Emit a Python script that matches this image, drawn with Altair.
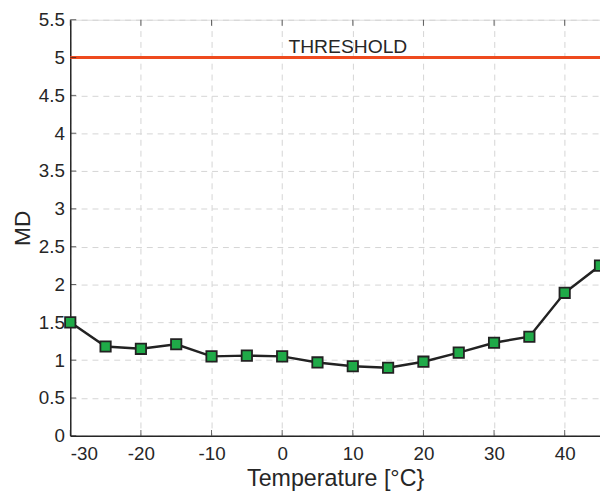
import altair as alt
import pandas as pd

temps = [-30, -25, -20, -15, -10, -5, 0, 5, 10, 15, 20, 25, 30, 35, 40, 45]
md = [1.50, 1.18, 1.15, 1.21, 1.05, 1.06, 1.05, 0.97, 0.92, 0.90, 0.98, 1.10, 1.23, 1.31, 1.89, 2.25]
threshold = 5
threshold_label = "THRESHOLD"
threshold_label_x = 9.3
x_ticks = [-30, -20, -10, 0, 10, 20, 30, 40]
y_ticks = [0, 0.5, 1, 1.5, 2, 2.5, 3, 3.5, 4, 4.5, 5, 5.5]

df = pd.DataFrame({"T": temps, "MD": md})
W, H = 536, 421
FONT = "Liberation Sans"

xs = alt.Scale(domain=[-30, 45], nice=False, zero=False)
ys = alt.Scale(domain=[0, 5.5], nice=False)

xaxis = alt.Axis(values=x_ticks, grid=True, gridDash=[6, 5], gridColor="#d4d4d4",
                 tickSize=0, labelFontSize=19, labelColor="#262626", labelFont=FONT,
                 labelPadding=9, labelExpr="toString(datum.value)", domainColor="#262626",
                 domainWidth=1.5, labelOverlap=False,
                 title="Temperature [°C}", titleFontSize=23.5, titleFont=FONT,
                 titleFontWeight="normal", titleColor="#262626", titlePadding=3)
yaxis = alt.Axis(values=y_ticks, grid=True, gridDash=[6, 5], gridColor="#d4d4d4",
                 tickSize=0, labelFontSize=19, labelColor="#262626", labelFont=FONT,
                 labelPadding=6, labelExpr="toString(datum.value)", domainColor="#262626",
                 domainWidth=1.5, labelOverlap=False,
                 title="MD", titleFontSize=23, titleFont=FONT,
                 titleFontWeight="normal", titleColor="#262626", titlePadding=4)

def X(f):
    return alt.X(f, scale=xs, axis=xaxis)

def Y(f):
    return alt.Y(f, scale=ys, axis=yaxis)

base = alt.Chart(df)

line = base.mark_line(color="#222222", strokeWidth=2.5).encode(x=X("T:Q"), y=Y("MD:Q"))
pts = base.mark_point(shape="square", filled=True, size=110, color="#1faa48",
                      stroke="#222222", strokeWidth=1.8, opacity=1).encode(x=X("T:Q"), y=Y("MD:Q"))

thr = alt.Chart(pd.DataFrame({"y": [threshold]})).mark_rule(
    color="#ee4a1e", strokeWidth=3).encode(y=Y("y:Q"))
thr_text = alt.Chart(pd.DataFrame({"x": [threshold_label_x], "y": [threshold], "t": [threshold_label]})).mark_text(
    fontSize=19.5, font=FONT, color="#262626", dy=-11).encode(
    x=X("x:Q"), y=Y("y:Q"), text="t:N")

xt = pd.DataFrame({"v": x_ticks})
yt = pd.DataFrame({"v": y_ticks})
xtick_b = alt.Chart(xt).mark_tick(orient="vertical", size=6, thickness=1, color="#262626").encode(
    x=X("v:Q"), y=alt.value(H - 3))
xtick_t = alt.Chart(xt).mark_tick(orient="vertical", size=6, thickness=1, color="#262626").encode(
    x=X("v:Q"), y=alt.value(3))
ytick_l = alt.Chart(yt).mark_tick(orient="horizontal", size=6, thickness=1, color="#262626").encode(
    y=Y("v:Q"), x=alt.value(3))

chart = alt.layer(line, thr, thr_text, xtick_b, xtick_t, ytick_l, pts).properties(
    width=W, height=H,
    autosize=alt.AutoSizeParams(type="none"),
    padding={"left": 63, "top": 9, "right": 0, "bottom": 55},
).configure_view(stroke=None).configure(background="white")

chart.save("out.html", embed_options={"renderer": "svg", "actions": False})
